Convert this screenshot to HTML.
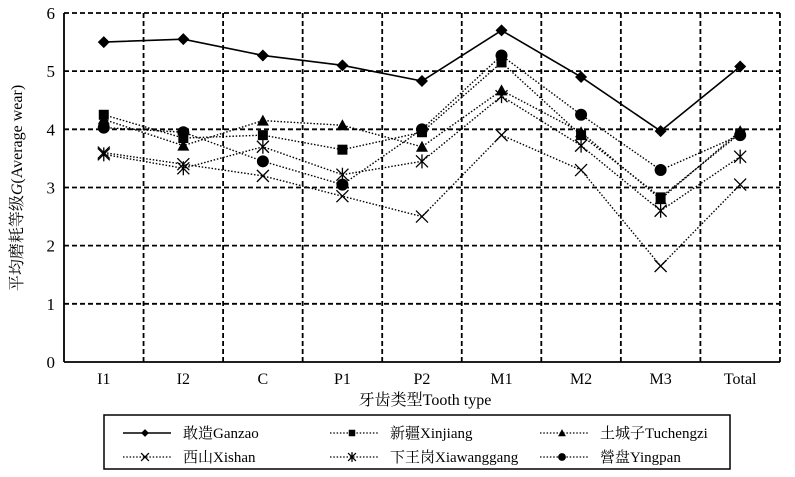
<!DOCTYPE html>
<html><head><meta charset="utf-8"><style>
html,body{margin:0;padding:0;background:#fff;width:795px;height:477px;overflow:hidden}
svg{display:block;font-family:"Liberation Serif","Noto Serif CJK SC",serif}
</style></head><body>
<svg id="s" width="795" height="477" xmlns="http://www.w3.org/2000/svg">
<rect width="795" height="477" fill="#fff"/>
<g id="grid" stroke="#000" stroke-width="1.8" stroke-dasharray="5,3" fill="none"></g>
<g id="axes" stroke="#000" stroke-width="1.8" fill="none">
<line x1="64" y1="13" x2="64" y2="362"/>
<line x1="64" y1="362" x2="780" y2="362"/>
</g>
<g id="yl" font-size="17" text-anchor="end"></g>
<g id="xl" font-size="16" text-anchor="middle"></g>
<text x="425" y="405" font-size="16" text-anchor="middle">牙齿类型Tooth type</text>
<text transform="translate(22,188) rotate(-90)" font-size="16" text-anchor="middle">平均磨耗等级<tspan font-style="italic">G</tspan>(Average wear)</text>
<g id="series"></g>
<rect x="104" y="415" width="626" height="54" fill="none" stroke="#000" stroke-width="1.5"/>
<g id="leg" font-size="15"></g>
</svg>
<script>
const NS="http://www.w3.org/2000/svg";
function el(p,t,a,txt){const e=document.createElementNS(NS,t);for(const k in a)e.setAttribute(k,a[k]);if(txt!=null)e.textContent=txt;p.appendChild(e);return e;}
const L=64,W=79.55,Y0=362,U=58.17;
const X=i=>L+W*(i+0.5), Y=v=>Y0-U*v;
const g=document.getElementById('grid');
for(let v=1;v<=6;v++)el(g,'line',{x1:L,y1:Y(v),x2:780,y2:Y(v)});
for(let i=1;i<=9;i++)el(g,'line',{x1:L+W*i,y1:13,x2:L+W*i,y2:362});
const yl=document.getElementById('yl');
for(let v=0;v<=6;v++)el(yl,'text',{x:55,y:Y(v)+6},v);
const xl=document.getElementById('xl');
["I1","I2","C","P1","P2","M1","M2","M3","Total"].forEach((c,i)=>el(xl,'text',{x:X(i),y:384},c));
const data=[
 ["d",[5.5,5.55,5.27,5.1,4.83,5.7,4.9,3.97,5.08],true],
 ["s",[4.25,3.85,3.9,3.65,3.95,5.15,3.9,2.83,3.93],false],
 ["t",[4.17,3.72,4.15,4.07,3.7,4.67,3.95,2.8,3.97],false],
 ["x",[3.6,3.4,3.2,2.85,2.5,3.9,3.3,1.65,3.05],false],
 ["a",[3.57,3.33,3.7,3.22,3.45,4.57,3.72,2.6,3.53],false],
 ["c",[4.03,3.95,3.45,3.05,4.0,5.27,4.25,3.3,3.9],false]];
function marker(p,m,x,y,s){
 s=s||1;
 if(m=="d")el(p,'path',{d:`M${x} ${y-6*s}L${x+6*s} ${y}L${x} ${y+6*s}L${x-6*s} ${y}Z`,fill:'#000'});
 if(m=="s")el(p,'rect',{x:x-5*s,y:y-5*s,width:10*s,height:10*s,fill:'#000'});
 if(m=="t")el(p,'path',{d:`M${x} ${y-6*s}L${x+6*s} ${y+5*s}L${x-6*s} ${y+5*s}Z`,fill:'#000'});
 if(m=="c")el(p,'circle',{cx:x,cy:y,r:6*s,fill:'#000'});
 if(m=="x"||m=="a"){const d=6*s;el(p,'path',{d:`M${x-d} ${y-d}L${x+d} ${y+d}M${x-d} ${y+d}L${x+d} ${y-d}`+(m=="a"?`M${x} ${y-d-1}L${x} ${y+d+1}`:''),stroke:'#000','stroke-width':1.3,fill:'none'});}
}
const sg=document.getElementById('series');
data.forEach(([m,v,solid])=>{
 el(sg,'polyline',{points:v.map((y,i)=>X(i)+','+Y(y)).join(' '),fill:'none',stroke:'#000','stroke-width':solid?1.6:1.4,'stroke-dasharray':solid?'none':'1.5,1.8'});
 v.forEach((y,i)=>marker(sg,m,X(i),Y(y)));
});
const lg=document.getElementById('leg');
const items=[["d","敢造Ganzao",true,123,433],["s","新疆Xinjiang",false,330,433],["t","土城子Tuchengzi",false,540,433],
["x","西山Xishan",false,123,457],["a","下王岗Xiawanggang",false,330,457],["c","營盘Yingpan",false,540,457]];
items.forEach(([m,t,solid,x,y])=>{
 el(lg,'line',{x1:x,y1:y,x2:x+48,y2:y,stroke:'#000','stroke-width':solid?1.6:1.3,'stroke-dasharray':solid?'none':'1.5,1.8'});
 marker(lg,m,x+22,y,0.65);
 el(lg,'text',{x:x+60,y:y+5},t);
});
</script>
</body></html>
